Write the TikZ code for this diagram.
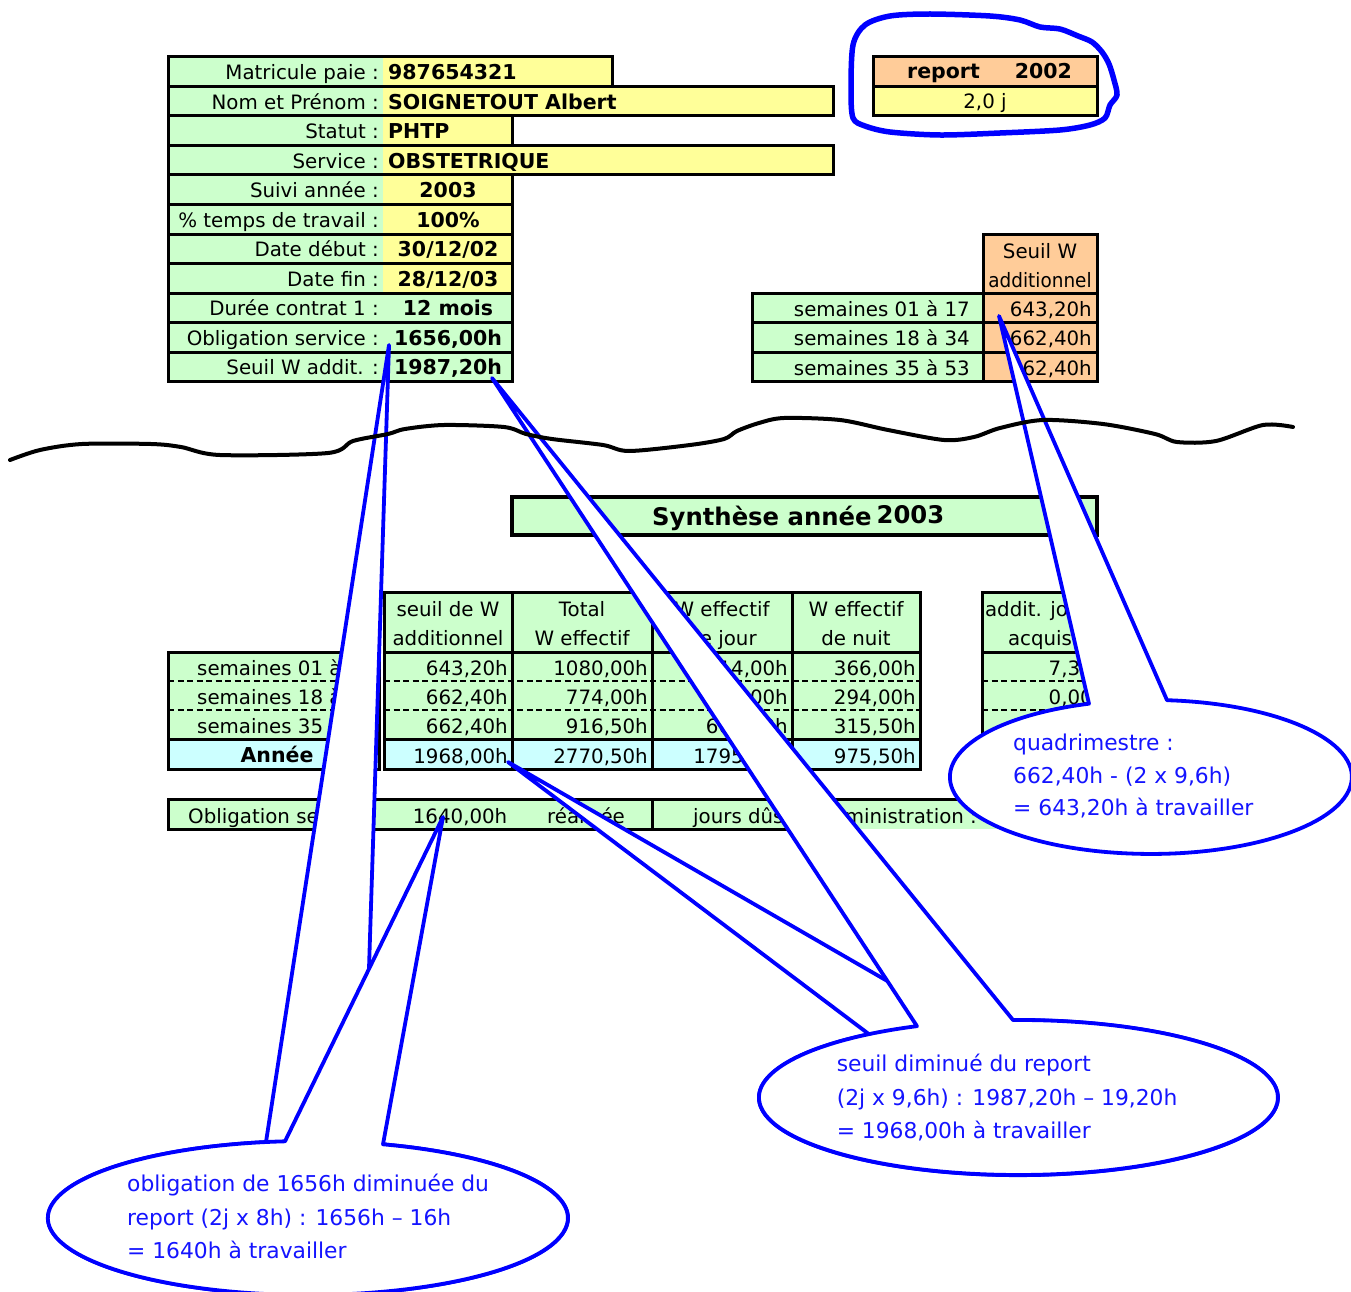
\documentclass[tikz,border=0pt]{standalone}
\usepackage{fontspec}
\setmainfont{DejaVu Sans}
\definecolor{cgreen}{HTML}{CCFFCC}
\definecolor{cyel}{HTML}{FFFF99}
\definecolor{corange}{HTML}{FFCC99}
\definecolor{ccyan}{HTML}{CCFFFF}
\definecolor{cblue}{HTML}{0000FF}
\definecolor{ctblue}{HTML}{1414FF}
\tikzset{
  lbl/.style={anchor=base east, inner sep=0pt, font=\fontsize{19.8}{22}\selectfont},
  lblw/.style={anchor=base west, inner sep=0pt, font=\fontsize{19.8}{22}\selectfont},
  lblc/.style={anchor=base, inner sep=0pt, font=\fontsize{19.8}{22}\selectfont},
  valb/.style={anchor=base west, inner sep=0pt, font=\fontsize{20.5}{24}\selectfont\bfseries},
  valbc/.style={anchor=base, inner sep=0pt, font=\fontsize{20.5}{24}\selectfont\bfseries},
  cellborder/.style={draw=black, line width=3pt},
  dashline/.style={draw=black, line width=2.6pt, dash pattern=on 6pt off 3.5pt},
  callout/.style={fill=white, draw=cblue, line width=3.8pt, line join=round},
  ctext/.style={anchor=base west, inner sep=0pt, text=ctblue, font=\fontsize{21.8}{24}\selectfont},
}
% #1 name, #2 top, #3 right, #4 fill, #5 label, #6 value, #7 style, #8 value x
\newcommand{\TopRow}[8]{%
  \fill[cgreen] (168,-#2) rectangle (383,{-(#2+29.5)});
  \fill[#4] (383,-#2) rectangle (#3,{-(#2+29.5)});
  \draw[cellborder] (168,-#2) rectangle (#3,{-(#2+29.5)});
  \node[lbl] (#1L) at (379,{-(#2+22.75)}) {#5};
  \node[#7] (#1V) at (#8,{-(#2+22.75)}) {#6};
}
\begin{document}
\begin{tikzpicture}[x=1pt,y=1pt]
\useasboundingbox[fill=white] (0,0) rectangle (1351,-1292);

% ---------- top left table ----------
\TopRow{r0}{57}{612}{cyel}{Matricule paie :}{987654321}{valb}{388}
\TopRow{r1}{86.5}{833}{cyel}{Nom et Prénom :}{SOIGNETOUT Albert}{valb}{388}
\TopRow{r2}{116}{512}{cyel}{Statut :}{PHTP}{valb}{388}
\TopRow{r3}{145.5}{833}{cyel}{Service :}{OBSTETRIQUE}{valb}{388}
\TopRow{r4}{175}{512}{cyel}{Suivi année :}{2003}{valbc}{448}
\TopRow{r5}{204.5}{512}{cyel}{\% temps de travail :}{100\%}{valbc}{448}
\TopRow{r6}{234}{512}{cyel}{Date début :}{30/12/02}{valbc}{448}
\TopRow{r7}{263.5}{512}{cyel}{Date fin :}{28/12/03}{valbc}{448}
\TopRow{r8}{293}{512}{cgreen}{Durée contrat 1 :}{12 mois}{valbc}{448}
\TopRow{r9}{322.5}{512}{cgreen}{Obligation service :}{1656,00h}{valbc}{448}
\TopRow{r10}{352}{512}{cgreen}{Seuil W addit. :}{1987,20h}{valbc}{448}

% ---------- report box ----------
\fill[corange] (873,-57) rectangle (1097,-86.5);
\fill[cyel] (873,-86.5) rectangle (1097,-116);
\draw[cellborder] (873,-57) rectangle (1097,-116);
\draw[cellborder] (873,-86.5) -- (1097,-86.5);
\node[valb] (rep) at (907,-78.5) {report\hspace{35pt}2002};
\node[lblc] (repv) at (985,-108.5) {2,0 j};

% ---------- right table ----------
\fill[corange] (983,-234) rectangle (1097,-293);
\draw[cellborder] (983,-234) rectangle (1097,-293);
\node[lblc] (sh1) at (1040,-258) {Seuil W};
\node[lblc] (sh2) at (1040,-287) {\scalebox{0.93}[1]{additionnel}};
\fill[cgreen] (752,-293) rectangle (983,-381.5);
\fill[corange] (983,-293) rectangle (1097,-381.5);
\draw[cellborder] (752,-293) rectangle (1097,-381.5);
\draw[cellborder] (752,-322.5) -- (1097,-322.5);
\draw[cellborder] (752,-352) -- (1097,-352);
\draw[cellborder] (983,-293) -- (983,-381.5);
\node[lbl] (s1) at (970,-316) {semaines 01 à 17};
\node[lbl] (s2) at (970,-345.5) {semaines 18 à 34};
\node[lbl] (s3) at (970,-375) {semaines 35 à 53};
\node[lbl] (v1) at (1092,-316) {643,20h};
\node[lbl] (v2) at (1092,-345.5) {662,40h};
\node[lbl] (v3) at (1092,-375) {662,40h};

% ---------- synthese header ----------
\fill[cgreen] (512,-497) rectangle (1097,-535);
\draw[draw=black, line width=4.2pt] (512,-497) rectangle (1097,-535);
\node[anchor=base west, inner sep=0pt, font=\fontsize{24.3}{28}\selectfont\bfseries] (syn) at (652,-525) {Synthèse année\hspace{5pt}\raisebox{1.5pt}{2003}};

% ---------- bottom table ----------
\fill[cgreen] (384,-592) rectangle (920,-739);
\fill[ccyan] (384,-739) rectangle (920,-769);
\fill[cgreen] (168,-652) rectangle (379,-739);
\fill[ccyan] (168,-739) rectangle (379,-769);
\fill[cgreen] (982,-592) rectangle (1097,-739);
\fill[ccyan] (982,-739) rectangle (1097,-769);
\foreach \yy in {681,710}{
  \draw[dashline] (168,-\yy) -- (379,-\yy);
  \draw[dashline] (384,-\yy) -- (920,-\yy);
  \draw[dashline] (982,-\yy) -- (1097,-\yy);
}
\draw[cellborder] (384,-592) rectangle (920,-769);
\draw[cellborder] (384,-652) -- (920,-652);
\draw[cellborder] (384,-739) -- (920,-739);
\foreach \xx in {512,652,792} \draw[cellborder] (\xx,-592) -- (\xx,-769);
\draw[cellborder] (168,-652) rectangle (379,-769);
\draw[cellborder] (168,-739) -- (379,-739);
\draw[cellborder] (982,-592) rectangle (1097,-769);
\draw[cellborder] (982,-652) -- (1097,-652);
\draw[cellborder] (982,-739) -- (1097,-739);

\node[lblc] (h1a) at (448,-616) {seuil de W};
\node[lblc] (h1b) at (448,-645) {additionnel};
\node[lblc] (h2a) at (582,-616) {Total};
\node[lblc] (h2b) at (582,-645) {W effectif};
\node[lblc] (h3a) at (722,-616) {W effectif};
\node[lblc] (h3b) at (722,-645) {de jour};
\node[lblc] (h4a) at (856,-616) {W effectif};
\node[lblc] (h4b) at (856,-645) {de nuit};
\node[lblc] (h5a) at (1042,-616) {addit. jours};
\node[lblc] (h5b) at (1040,-645) {acquis};

\node[lblw] (b1) at (197,-675) {semaines 01 à 17};
\node[lblw] (b2) at (197,-704) {semaines 18 à 34};
\node[lblw] (b3) at (197,-733) {semaines 35 à 53};
\node[valbc] (b4) at (277,-762.5) {Année};

\node[lbl] (c11) at (508,-675) {643,20h};
\node[lbl] (c12) at (508,-704) {662,40h};
\node[lbl] (c13) at (508,-733) {662,40h};
\node[lbl] (c14) at (508,-763) {1968,00h};
\node[lbl] (c21) at (648,-675) {1080,00h};
\node[lbl] (c22) at (648,-704) {774,00h};
\node[lbl] (c23) at (648,-733) {916,50h};
\node[lbl] (c24) at (648,-763) {2770,50h};
\node[lbl] (c31) at (788,-675) {714,00h};
\node[lbl] (c32) at (788,-704) {480,00h};
\node[lbl] (c33) at (788,-733) {601,00h};
\node[lbl] (c34) at (788,-763) {1795,00h};
\node[lbl] (c41) at (916,-675) {366,00h};
\node[lbl] (c42) at (916,-704) {294,00h};
\node[lbl] (c43) at (916,-733) {315,50h};
\node[lbl] (c44) at (916,-763) {975,50h};
\node[lbl] (c51) at (1093,-675) {7,33};
\node[lbl] (c52) at (1093,-704) {0,00};

% ---------- obligation row ----------
\fill[cgreen] (168,-799) rectangle (1097,-829);
\draw[cellborder] (1097,-799) -- (168,-799) -- (168,-829) -- (800,-829);
\draw[cellborder] (652,-799) -- (652,-829);
\node[lblw] (o1) at (188,-823) {Obligation service};
\node[lbl] (o2) at (507.5,-823) {1640,00h};
\node[lblw] (o3) at (547,-823) {réalisée};
\node[lblw] (o4) at (693,-823) {jours dûs à l'administration :};

% ---------- callouts ----------
\coordinate (apA) at (389,-345);
\coordinate (apB) at (443,-817);
\coordinate (apC) at (492,-378);
\coordinate (apD) at (508,-762);
\coordinate (apE) at (999,-316);

\path[callout] (266,-1142) -- (apA) -- (363.4,-1142.8)
  arc[start angle=77.7, end angle=-260.7, x radius=260, y radius=77] -- cycle;
\path[callout] (285,-1141.3) -- (apB) -- (383,-1144.3)
  arc[start angle=73.2, end angle=-264.9, x radius=260, y radius=77] -- cycle;
\node[ctext] (t1) at (127,-1191.7) {obligation de 1656h diminuée du};
\node[ctext] (t2) at (127,-1225) {report (2j x 8h) : 1656h – 16h};
\node[ctext] (t3) at (127,-1258.3) {= 1640h à travailler};

\path[callout] (869,-1034.2) -- (apD) -- (958.7,-1022.2)
  arc[start angle=103.3, end angle=-234.8, x radius=259.5, y radius=77.5] -- cycle;
\path[callout] (917,-1026.2) -- (apC) -- (1013,-1020)
  arc[start angle=91.2, end angle=-247.0, x radius=259.5, y radius=77.5] -- cycle;
\node[ctext] (t4) at (836.6,-1071.7) {seuil diminué du report};
\node[ctext] (t5) at (836.6,-1105) {(2j x 9,6h) : 1987,20h – 19,20h};
\node[ctext] (t6) at (836.6,-1138.3) {= 1968,00h à travailler};

\path[callout] (1089,-703.8) -- (apE) -- (1167,-700.2)
  arc[start angle=85.4, end angle=-252, x radius=201, y radius=77] -- cycle;
\node[ctext] (t7) at (1013,-750) {quadrimestre :};
\node[ctext] (t8) at (1013,-783) {662,40h - (2 x 9,6h)};
\node[ctext] (t9) at (1013,-815) {= 643,20h à travailler};

% ---------- torn line ----------
\draw[black, line width=4pt, line cap=round, line join=round]
  plot[smooth, tension=0.5] coordinates {
  (10,-460) (40,-450) (82,-444) (151,-444) (181,-447) (220,-455) (328,-453)
  (353,-441) (388,-434) (405,-429) (444,-425) (504,-427) (526,-434) (552,-439)
  (603,-445) (629,-451) (690,-445) (724,-439) (737,-431) (759,-423) (784,-418)
  (840,-420) (888,-430) (944,-440) (974,-437) (1000,-428) (1043,-420) (1103,-424)
  (1155,-434) (1177,-442) (1216,-441) (1263,-425) (1293,-427)};

% ---------- hand drawn loop ----------
\draw[cblue, line width=5.5pt, line join=round]
  plot[smooth cycle, tension=0.5] coordinates {
  (853,-45) (865,-25) (890,-16) (930,-14) (990,-16) (1020,-20) (1040,-27)
  (1060,-29) (1078,-36) (1092,-42) (1102,-52) (1109,-64) (1114,-80) (1117,-95)
  (1110,-105) (1105,-118) (1090,-125) (1060,-130) (1000,-133) (940,-135)
  (890,-132) (865,-126) (853,-118) (851,-90)};
\end{tikzpicture}
\end{document}
